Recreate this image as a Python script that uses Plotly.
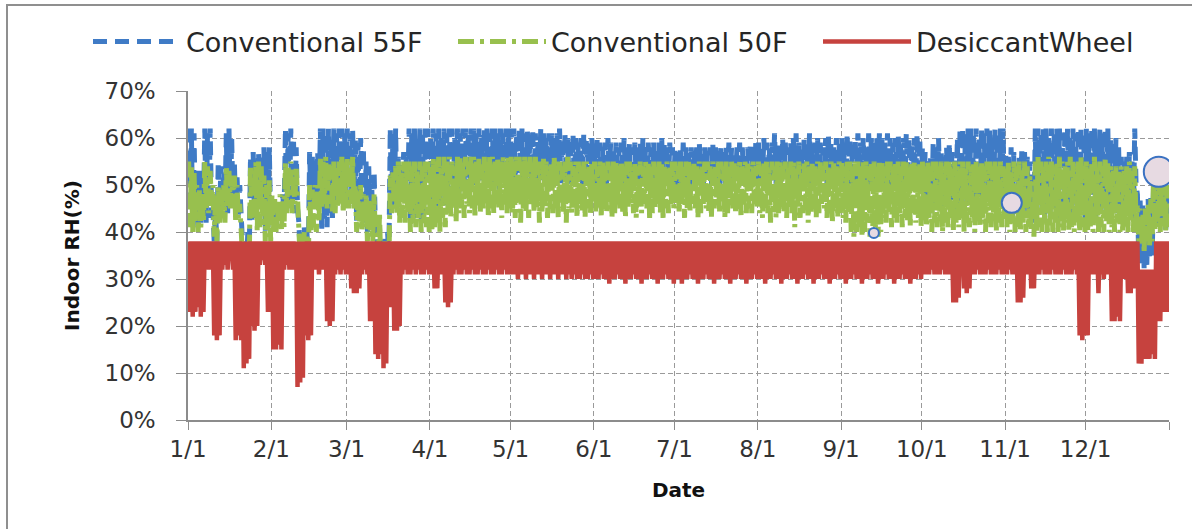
import plotly.graph_objects as go

# ---------------- data (daily max / min) ----------------
MONTH_TICKS = [0, 31, 59, 90, 120, 151, 181, 212, 243, 273, 304, 334, 365]
MONTH_LABELS = ["1/1", "2/1", "3/1", "4/1", "5/1", "6/1", "7/1", "8/1", "9/1",
                "10/1", "11/1", "12/1", ""]
Y_TICKS = [0, 10, 20, 30, 40, 50, 60, 70]
Y_LABELS = ["0%", "10%", "20%", "30%", "40%", "50%", "60%", "70%"]

SERIES_NAMES = ["Conventional 55F", "Conventional 50F", "DesiccantWheel"]

BLUE_HI = [
    62,62,61,50,53,52,62,61,62,45,44,55,54,53,61,62,60,55,52,50,38,38,40,56,57,55,57,56,58,57,58,
    47,46,45,46,48,62,61,62,60,58,42,40,41,40,57,56,55,57,62,62,61,62,60,62,61,62,62,61,
    62,61,62,60,59,60,58,55,54,52,53,40,41,38,39,40,62,61,62,56,55,57,56,62,61,62,60,62,61,62,62,
    60,62,61,62,60,62,61,62,62,60,62,61,62,62,61,62,62,61,62,60,62,62,61,62,62,61,62,61,62,62,
    62,62,61,62,62,61,62,61,62,61,60,62,61,60,61,61,60,61,62,60,61,60,60,61,60,59,60,61,60,59,60,
    59,60,59,58,59,60,59,58,59,58,59,60,58,59,58,59,58,59,60,58,59,58,59,58,59,60,59,58,59,58,
    58,57,58,59,58,57,58,57,58,59,57,58,57,58,59,58,57,58,57,58,59,58,57,58,59,58,57,58,59,58,59,
    59,58,60,59,58,59,61,59,58,60,59,58,59,60,61,59,58,60,59,61,58,59,60,59,58,60,61,59,58,60,59,
    60,59,61,60,59,60,61,59,60,58,61,60,59,60,61,60,59,61,60,59,60,61,59,60,61,60,59,60,61,60,
    58,57,55,56,59,58,60,57,56,58,59,57,56,60,62,62,61,62,62,61,62,60,62,61,62,62,60,62,61,62,62,
    57,56,58,57,55,56,58,57,56,55,50,62,62,61,62,62,60,62,61,62,62,61,62,62,60,62,61,62,62,61,
    62,61,62,62,60,62,61,62,62,60,59,60,58,56,55,56,57,55,62,48,47,46,45,47,48,50,49,50,48,49,50,
]
BLUE_LO = [
    42,41,43,41,42,44,42,43,45,38,38,44,45,46,44,45,46,44,43,40,32,32,33,42,43,46,47,45,40,41,42,
    42,41,43,42,44,44,45,46,44,45,35,34,35,34,46,47,46,45,40,42,41,44,43,46,47,48,46,47,
    45,46,47,42,43,44,42,40,41,42,40,34,35,33,34,35,45,46,45,48,50,49,48,42,44,43,45,42,44,46,50,
    44,45,43,46,48,45,47,48,50,46,48,52,50,51,49,52,50,48,51,53,50,49,52,50,51,49,52,50,51,50,
    50,51,52,50,49,51,52,50,51,50,52,51,50,52,51,50,51,52,50,51,52,50,51,50,52,51,50,51,52,50,51,
    50,51,52,51,50,52,51,50,52,51,50,52,51,50,51,52,50,51,52,50,51,50,52,51,50,51,52,50,51,50,
    50,51,50,52,51,50,51,52,50,51,50,52,51,50,51,52,50,51,50,52,51,50,51,52,50,51,50,52,51,50,51,
    50,51,52,50,51,52,50,51,50,52,51,50,52,51,50,51,52,50,51,50,52,51,50,51,52,50,51,50,52,51,50,
    50,49,51,50,48,50,51,49,50,48,51,50,49,50,51,49,50,51,50,48,50,51,49,50,51,50,49,50,51,50,
    46,45,47,44,46,45,47,44,46,45,47,44,46,45,48,47,46,48,47,46,48,47,46,48,47,46,48,47,46,48,47,
    44,45,43,46,44,45,43,46,44,45,42,44,46,45,43,47,44,46,45,43,47,44,46,45,43,47,44,46,45,43,
    44,46,45,43,47,44,46,45,43,45,44,46,45,44,43,45,44,43,50,34,33,32,33,34,35,42,41,43,42,40,41,
]
GREEN_HI = [
    55,54,53,50,49,48,55,54,53,50,48,50,49,50,54,53,52,52,50,46,37,36,38,54,53,55,55,54,52,50,51,
    48,47,46,48,47,55,54,55,53,54,40,39,40,39,50,49,50,50,56,55,56,55,54,55,54,55,56,55,
    56,55,56,50,49,50,48,48,47,46,48,38,44,37,38,38,52,53,54,55,54,55,55,55,54,55,53,55,54,55,55,
    54,56,55,56,54,56,55,56,55,54,56,56,55,56,55,56,56,55,56,54,56,55,56,56,55,56,55,56,55,56,
    56,55,56,56,55,56,55,56,55,56,55,55,56,55,54,55,56,55,55,54,55,56,55,54,55,55,54,55,55,54,55,
    55,54,55,55,54,55,54,55,55,54,55,54,55,55,54,55,54,55,54,55,55,54,55,54,55,55,54,55,54,55,
    55,54,55,54,55,55,54,55,54,55,54,55,55,54,55,54,55,55,54,55,54,55,55,54,55,54,55,55,54,55,54,
    55,54,55,55,54,55,54,55,55,54,55,54,55,55,54,55,54,55,55,54,55,54,55,55,54,55,54,55,55,54,55,
    55,54,55,55,54,55,55,54,55,55,54,55,55,54,55,55,54,55,55,54,55,55,54,55,55,54,55,55,54,55,
    55,54,55,54,55,55,54,55,54,55,55,54,55,54,55,55,54,55,54,55,55,54,55,54,55,55,54,55,54,55,54,
    54,55,53,55,54,55,53,55,54,52,48,55,56,55,54,55,56,55,54,55,56,55,54,55,56,55,54,55,56,54,
    55,54,55,56,54,55,54,56,55,54,53,54,53,54,53,54,55,53,54,46,45,44,45,46,47,52,51,52,50,51,50,
]
GREEN_LO = [
    41,40,42,40,41,42,45,44,46,39,38,42,43,42,46,45,46,42,43,40,30,30,32,43,44,40,41,42,38,39,38,
    40,40,41,40,41,44,45,44,46,45,34,33,34,33,40,41,40,42,45,46,45,46,44,44,45,46,44,45,
    45,46,45,40,41,40,41,38,39,38,38,32,33,31,32,33,44,45,44,42,43,42,44,40,42,41,43,40,42,41,40,
    40,41,42,40,43,41,44,43,45,42,44,45,43,46,44,45,43,47,44,45,46,43,45,44,46,45,43,46,44,45,
    44,43,46,42,45,44,43,46,44,45,42,44,46,43,45,44,46,43,45,44,42,45,44,46,43,45,44,43,45,44,46,
    44,45,43,46,44,45,43,44,46,45,44,43,45,46,44,43,45,44,46,45,43,44,45,46,44,43,45,44,46,45,
    45,44,46,43,45,44,46,45,43,44,46,45,44,43,45,46,44,45,43,44,46,45,44,45,43,46,44,45,44,46,45,
    44,43,45,44,42,45,43,44,46,44,43,45,44,41,45,43,44,45,42,44,45,43,44,46,45,43,44,42,45,43,44,
    43,42,44,40,39,40,41,39,40,42,39,40,41,39,40,43,42,44,41,43,42,44,41,43,42,41,44,42,43,41,
    42,41,43,40,42,41,43,40,42,41,43,40,42,41,43,40,42,41,43,40,42,41,43,40,42,41,43,40,42,41,43,
    41,40,42,40,41,40,42,40,41,40,39,40,41,40,42,40,41,40,42,40,41,40,42,40,41,40,42,40,41,40,
    40,41,40,42,40,41,40,42,40,41,40,42,40,40,41,40,42,40,42,38,37,36,38,37,38,40,41,40,42,40,41,
]
RED_HI = [
    38,38,38,38,38,38,38,38,38,38,38,38,38,38,38,38,38,38,38,38,38,38,38,38,38,38,38,38,38,38,38,
    38,38,38,38,38,38,38,38,38,38,38,38,38,38,38,38,38,38,38,38,38,38,38,38,38,38,38,38,
    38,38,38,38,38,38,38,38,38,38,38,38,38,38,38,38,38,38,38,38,38,38,38,38,38,38,38,38,38,38,38,
    38,38,38,38,38,38,38,38,38,38,38,38,38,38,38,38,38,38,38,38,38,38,38,38,38,38,38,38,38,38,
    38,38,38,38,38,38,38,38,38,38,38,38,38,38,38,38,38,38,38,38,38,38,38,38,38,38,38,38,38,38,38,
    38,38,38,38,38,38,38,38,38,38,38,38,38,38,38,38,38,38,38,38,38,38,38,38,38,38,38,38,38,38,
    38,38,38,38,38,38,38,38,38,38,38,38,38,38,38,38,38,38,38,38,38,38,38,38,38,38,38,38,38,38,38,
    38,38,38,38,38,38,38,38,38,38,38,38,38,38,38,38,38,38,38,38,38,38,38,38,38,38,38,38,38,38,38,
    38,38,38,38,38,38,38,38,38,38,38,38,38,38,38,38,38,38,38,38,38,38,38,38,38,38,38,38,38,38,
    38,38,38,38,38,38,38,38,38,38,38,38,38,38,38,38,38,38,38,38,38,38,38,38,38,38,38,38,38,38,38,
    38,38,38,38,38,38,38,38,38,38,38,38,38,38,38,38,38,38,38,38,38,38,38,38,38,38,38,38,38,38,
    38,38,38,38,38,38,38,38,38,38,38,38,38,38,38,38,38,38,38,38,32,32,32,32,32,32,38,38,38,38,38,
]
RED_LO = [
    23,22,23,24,22,23,35,32,32,18,17,18,32,33,32,34,32,17,18,17,11,12,13,20,19,20,33,34,33,23,23,
    15,15,16,15,32,33,32,32,33,7,8,9,18,17,18,32,32,31,32,32,21,20,21,31,32,31,32,31,
    31,28,27,27,28,31,32,31,21,21,14,13,14,11,12,24,24,19,19,20,31,32,31,31,32,31,32,31,31,32,31,
    31,28,28,31,31,25,24,25,31,32,31,31,32,31,31,32,31,31,32,31,31,32,31,31,32,31,31,32,31,31,
    31,31,30,31,31,30,31,31,30,31,31,30,31,31,30,31,31,30,31,31,30,31,30,31,30,30,31,30,30,31,30,
    30,30,31,30,30,29,30,30,31,30,30,29,30,30,31,30,30,29,30,30,31,30,30,29,30,30,31,30,30,29,
    30,30,29,30,30,31,30,30,29,30,30,31,30,30,29,30,30,31,30,30,29,30,30,31,30,30,29,30,30,31,30,
    30,30,29,30,30,31,30,30,29,30,30,31,30,30,29,30,30,31,30,30,29,30,30,31,30,30,29,30,30,31,30,
    30,29,30,30,31,30,30,29,30,30,31,30,30,29,30,30,31,30,30,29,30,30,31,30,30,29,30,30,31,30,
    31,31,31,32,31,31,31,32,31,31,31,25,25,26,31,28,27,28,31,31,32,31,31,31,32,31,31,31,32,31,31,
    31,32,31,31,25,25,26,31,31,28,28,31,31,32,31,31,31,32,31,31,31,32,31,31,31,32,31,18,17,18,
    18,31,31,31,27,31,30,31,31,21,21,22,21,30,30,27,27,28,30,12,12,13,13,13,14,13,21,21,23,23,23,
]

# decorative circles seen on the picture: (day, RH%, radius px)
BUBBLES = [(255.2, 39.8, 5), (306.5, 46.2, 10), (361.2, 52.8, 15)]

for name, arr in [("BLUE_HI", BLUE_HI), ("BLUE_LO", BLUE_LO), ("GREEN_HI", GREEN_HI),
                  ("GREEN_LO", GREEN_LO), ("RED_HI", RED_HI), ("RED_LO", RED_LO)]:
    assert len(arr) == 365, (name, len(arr))

BLUE = "#3f7bc6"
GREEN = "#98c04e"
RED = "#c6423e"
FONT = "DejaVu Sans"


def zigzag(hi, lo):
    xs, ys = [], []
    for d, (h, l) in enumerate(zip(hi, lo)):
        xs += [d + 0.25, d + 0.75]
        ys += [h, l]
    return xs, ys


fig = go.Figure()
for (hi, lo), name, color, dash, w in [
    ((BLUE_HI, BLUE_LO), SERIES_NAMES[0], BLUE, "14px,8px", 5),
    ((GREEN_HI, GREEN_LO), SERIES_NAMES[1], GREEN, "16px,6px,4px,6px", 5),
    ((RED_HI, RED_LO), SERIES_NAMES[2], RED, "solid", 4.5),
]:
    xs, ys = zigzag(hi, lo)
    fig.add_trace(go.Scatter(x=xs, y=ys, mode="lines", name=name,
                             line=dict(color=color, width=w, dash=dash),
                             hoverinfo="skip"))

shapes = [
    dict(type="rect", xref="paper", yref="paper",
         x0=(7 - 188) / 981, x1=(1196 - 188) / 981,
         y0=(420 - 540) / 329, y1=(420 - 5) / 329,
         line=dict(color="#8f8f8f", width=2), fillcolor="rgba(0,0,0,0)", layer="below"),
]
for bx, by, r in BUBBLES:
    shapes.append(dict(type="circle", xref="x", yref="y", xsizemode="pixel", ysizemode="pixel",
                       xanchor=bx, yanchor=by, x0=-r, x1=r, y0=-r, y1=r,
                       fillcolor="#e7dae2", line=dict(color="#3b72c2", width=2), layer="above"))

fig.update_layout(
    width=1192, height=529,
    margin=dict(l=188, r=23, t=91, b=109, autoexpand=False),
    paper_bgcolor="white", plot_bgcolor="white",
    font=dict(family=FONT, color="#333333"),
    showlegend=True,
    legend=dict(orientation="h", x=(88 - 188) / 981, xanchor="left",
                y=(420 - 42) / 329, yanchor="middle",
                font=dict(family=FONT, size=27, color="#262626"),
                itemwidth=88, entrywidth=262, entrywidthmode="pixels",
                bgcolor="rgba(0,0,0,0)", traceorder="normal"),
    shapes=shapes,
    xaxis=dict(range=[0, 365], tickmode="array", tickvals=MONTH_TICKS, ticktext=MONTH_LABELS,
               showgrid=True, gridcolor="#9a9a9a", griddash="5px,3px", gridwidth=1,
               showline=True, linecolor="#8c8c8c", linewidth=1.5,
               ticks="outside", ticklen=8, tickcolor="#8c8c8c",
               tickfont=dict(family=FONT, size=23, color="#333333"),
               zeroline=False,
               title=dict(text="<b>Date</b>", font=dict(family=FONT, size=20, color="#111111"),
                          standoff=22)),
    yaxis=dict(range=[0, 70], tickmode="array", tickvals=Y_TICKS, ticktext=Y_LABELS,
               showgrid=True, gridcolor="#9a9a9a", griddash="5px,3px", gridwidth=1,
               showline=True, linecolor="#8c8c8c", linewidth=1.5,
               ticks="outside", ticklen=10, tickcolor="#8c8c8c", ticklabelstandoff=16,
               tickfont=dict(family=FONT, size=23, color="#333333"),
               zeroline=False,
               title=dict(text="<b>Indoor RH(%)</b>", font=dict(family=FONT, size=20, color="#111111"),
                          standoff=20)),
)

fig.write_html("out.html")
